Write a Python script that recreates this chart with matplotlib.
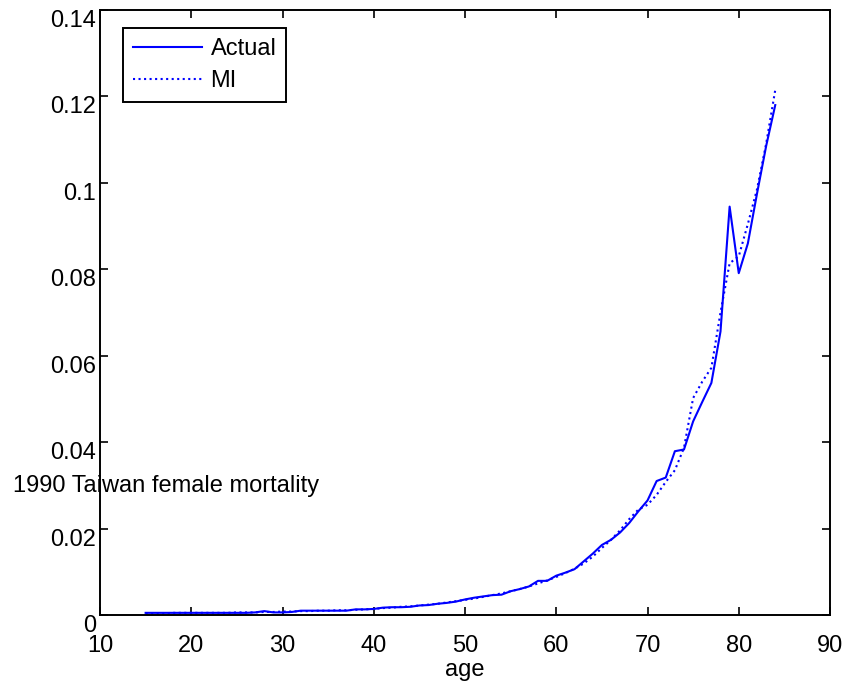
import matplotlib.pyplot as plt

plt.rcParams['font.family'] = ['Liberation Sans', 'DejaVu Sans']

age = list(range(15, 85))

actual = [0.0005, 0.0005, 0.0005, 0.0005, 0.0005, 0.0005, 0.0005, 0.0005, 0.0005, 0.0005,
          0.0005, 0.0005, 0.0006, 0.0009, 0.0006, 0.0006, 0.0007, 0.0010, 0.0010, 0.0010,
          0.0010, 0.0010, 0.0010, 0.0013, 0.0013, 0.0014, 0.0017, 0.0018, 0.0018, 0.0019,
          0.0022, 0.0023, 0.0026, 0.0028, 0.0031, 0.0036, 0.0040, 0.0043, 0.0046, 0.0047,
          0.0055, 0.0060, 0.0066, 0.0079, 0.0079, 0.0091, 0.0098, 0.0106, 0.0124, 0.0142,
          0.0162, 0.0174, 0.0191, 0.0213, 0.0240, 0.0265, 0.0310, 0.0318, 0.0379, 0.0383,
          0.0448, 0.0493, 0.0537, 0.0656, 0.0945, 0.0791, 0.0860, 0.0975, 0.1085, 0.1180]

mi = [0.0004, 0.0004, 0.0004, 0.0005, 0.0005, 0.0005, 0.0005, 0.0005, 0.0005, 0.0005,
      0.0006, 0.0006, 0.0006, 0.0007, 0.0007, 0.0008, 0.0008, 0.0009, 0.0009, 0.0010,
      0.0010, 0.0011, 0.0011, 0.0012, 0.0013, 0.0014, 0.0016, 0.0017, 0.0019, 0.0020,
      0.0022, 0.0024, 0.0026, 0.0029, 0.0032, 0.0035, 0.0038, 0.0042, 0.0046, 0.0050,
      0.0055, 0.0060, 0.0066, 0.0073, 0.0080, 0.0088, 0.0097, 0.0107, 0.0119, 0.0135,
      0.0155, 0.0174, 0.0196, 0.0222, 0.0244, 0.0255, 0.0278, 0.0308, 0.0335, 0.0387,
      0.0502, 0.0540, 0.0572, 0.0700, 0.0814, 0.0830, 0.0905, 0.0985, 0.1090, 0.1215]

xticks = [10, 20, 30, 40, 50, 60, 70, 80, 90]
yticks = [0, 0.02, 0.04, 0.06, 0.08, 0.1, 0.12, 0.14]
ytick_labels = ['0', '0.02', '0.04', '0.06', '0.08', '0.1', '0.12', '0.14']

fs = 17

fig = plt.figure(figsize=(8.48, 6.88), dpi=100)
ax = fig.add_axes([100 / 848, 73 / 688, 730 / 848, 605 / 688])

ax.plot(age, actual, color='#0000ff', linewidth=1.5, label='Actual')
ax.plot(age, mi, color='#0000ff', linewidth=1.5, linestyle=':', label='MI')

ax.set_xlim(10, 90)
ax.set_ylim(0, 0.14)
ax.set_xticks(xticks)
ax.set_yticks(yticks)
ax.set_yticklabels(ytick_labels)
ax.tick_params(direction='in', length=6, width=1.2, top=True, right=True,
               labelsize=fs)
ax.tick_params(axis='x', pad=14.5)
ax.tick_params(axis='y', pad=3)
for lab in ax.get_yticklabels():
    lab.set_verticalalignment('top')
for s in ax.spines.values():
    s.set_linewidth(1.4)

ax.set_xlabel('age', fontsize=fs, labelpad=1.5)
fig.text(166 / 848, 1 - 492 / 688, '1990 Taiwan female mortality',
         ha='center', va='baseline', fontsize=fs)

leg = ax.legend(loc='upper left', bbox_to_anchor=(0.0315, 0.970), fontsize=fs,
                fancybox=False, framealpha=1, edgecolor='black',
                handlelength=2.95, borderpad=0.41, labelspacing=0.44,
                handletextpad=0.35, borderaxespad=0)
leg.get_frame().set_linewidth(1.4)

fig.savefig('out.png', dpi=100)
